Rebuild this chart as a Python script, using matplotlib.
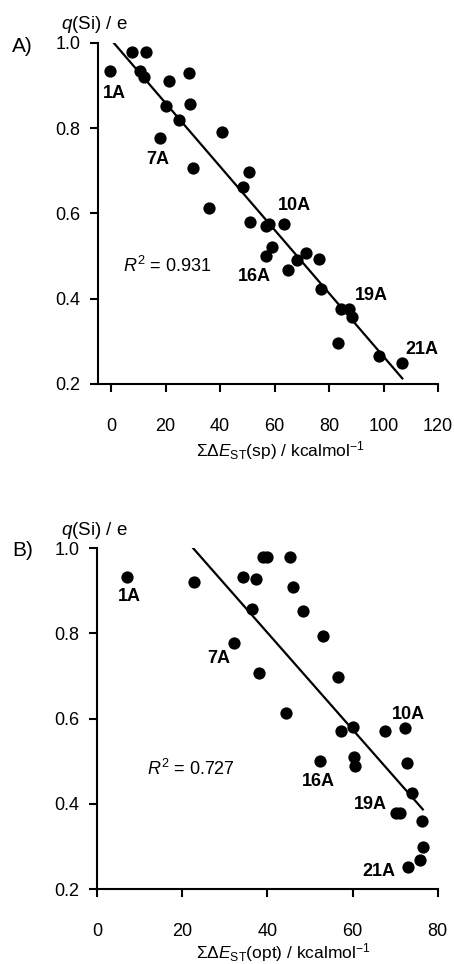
"""Charge at Si versus summed singlet-triplet gaps, panels A and B."""

from matplotlib import pyplot
import numpy

# Panel A: single-point gaps.
x_a = [-0.6, 7.8, 12.7, 10.7, 12.1, 21.4, 28.4, 20.1, 28.8, 25.0, 17.8,
       40.6, 29.9, 50.6, 48.5, 36.0, 50.8, 56.7, 57.9, 63.5, 59.2, 56.9,
       64.8, 68.3, 71.7, 76.3, 77.2, 84.4, 87.3, 88.6, 83.2, 98.3, 106.9]
q_a = [0.934, 0.978, 0.980, 0.935, 0.921, 0.911, 0.929, 0.852, 0.856, 0.820,
       0.778, 0.792, 0.707, 0.697, 0.661, 0.612, 0.581, 0.570, 0.576, 0.576,
       0.522, 0.501, 0.467, 0.490, 0.507, 0.493, 0.423, 0.376, 0.377, 0.358,
       0.296, 0.266, 0.249]
names_a = {0: '1A', 10: '7A', 19: '10A', 21: '16A', 28: '19A', 32: '21A'}
fit_x_a = [1.0, 106.9]
fit_q_a = [1.0, 0.213]
r2_a = '0.931'

# Panel B: optimised gaps.
x_b = [7.1, 22.8, 34.2, 37.3, 38.9, 39.9, 45.3, 46.1, 36.3, 48.4, 32.1,
       53.1, 38.1, 56.5, 44.3, 57.3, 60.1, 67.6, 72.3, 52.4, 60.3, 60.6,
       72.7, 73.9, 70.3, 71.2, 76.4, 76.6, 75.8, 73.1]
q_b = [0.933, 0.921, 0.933, 0.929, 0.979, 0.979, 0.979, 0.910, 0.857, 0.853,
       0.777, 0.794, 0.708, 0.698, 0.614, 0.572, 0.581, 0.572, 0.578, 0.501,
       0.509, 0.489, 0.495, 0.425, 0.378, 0.378, 0.360, 0.299, 0.268, 0.252]
names_b = {0: '1A', 10: '7A', 18: '10A', 19: '16A', 24: '19A', 29: '21A'}
fit_x_b = [22.6, 76.5]
fit_q_b = [1.0, 0.387]
r2_b = '0.727'

yticks = [0.2, 0.4, 0.6, 0.8, 1.0]

pyplot.rcParams['font.family'] = ['Liberation Sans', 'DejaVu Sans']
pyplot.rcParams['mathtext.fontset'] = 'custom'
pyplot.rcParams['mathtext.rm'] = 'Liberation Sans'
pyplot.rcParams['mathtext.it'] = 'Liberation Sans:italic'
pyplot.rcParams['mathtext.bf'] = 'Liberation Sans:bold'

fig = pyplot.figure(figsize=(4.54, 9.64), dpi=100)


def draw_panel(ax, xs, qs, names, offsets, fit_x, fit_q, r2, r2_pos,
               xlim, xticks, xlabel, xlabel_pos, letter, letter_y):
    """Draw one scatter panel with its regression line and labels."""
    ax.scatter(xs, qs, s=78, color='black', zorder=3, linewidths=0)
    ax.plot(fit_x, fit_q, color='black', linewidth=1.6, zorder=2)
    for i, name in names.items():
        ax.annotate(name, (xs[i], qs[i]), xytext=offsets[name],
                    textcoords='offset points', ha='center', va='center',
                    fontsize=13, fontweight='bold')
    ax.text(r2_pos[0], r2_pos[1], r'$\mathit{R}^{2}$ = ' + r2,
            fontsize=13, ha='left', va='center')
    ax.set_xlim(*xlim)
    ax.set_ylim(0.2, 1.0)
    ax.set_xticks(xticks)
    ax.set_yticks(yticks)
    ax.set_yticklabels([f'{v:.1f}' for v in yticks])
    for side in ('top', 'right'):
        ax.spines[side].set_visible(False)
    for side in ('left', 'bottom'):
        ax.spines[side].set_linewidth(1.5)
    ax.tick_params(axis='both', direction='out', length=5.5, width=1.5,
                   labelsize=13)
    ax.tick_params(axis='x', pad=19)
    ax.tick_params(axis='y', pad=7)
    ax.text(-0.107, 1.053, r'$\mathit{q}$(Si) / e', transform=ax.transAxes,
            fontsize=13.5, ha='left', va='center')
    ax.text(xlabel_pos[0], xlabel_pos[1], xlabel, transform=ax.transAxes,
            fontsize=12.5, ha='center', va='center')
    fig.text(0.026, letter_y, letter, fontsize=15, ha='left', va='center')


ax1 = fig.add_axes([0.2148, 0.6017, 0.750, 0.3537])
draw_panel(ax1, x_a, q_a, names_a,
           {'1A': (3.4, -15.8), '7A': (-1, -15.6), '10A': (7.4, 13),
            '16A': (-8.4, -15), '19A': (16.3, 9.1), '21A': (13.9, 9.6)},
           fit_x_a, fit_q_a, r2_a, (4.4, 0.478),
           (-5, 120), [0, 20, 40, 60, 80, 100, 120],
           'ΣΔ$\\mathit{E}_{\\mathrm{ST}}$(sp) / kcalmol$^{-1}$',
           (0.536, -0.194), 'A)', 0.952)

ax2 = fig.add_axes([0.2137, 0.0778, 0.7504, 0.3534])
draw_panel(ax2, x_b, q_b, names_b,
           {'1A': (1.2, -14.4), '7A': (-11, -10.8), '10A': (2.2, 10),
            '16A': (-1.2, -15.1), '19A': (-18.5, 6), '21A': (-21, -3.6)},
           fit_x_b, fit_q_b, r2_b, (11.8, 0.482),
           (0, 80), [0, 20, 40, 60, 80],
           'ΣΔ$\\mathit{E}_{\\mathrm{ST}}$(opt) / kcalmol$^{-1}$',
           (0.546, -0.188), 'B)', 1 - 551 / 964)

fig.savefig('out.png', dpi=100)
